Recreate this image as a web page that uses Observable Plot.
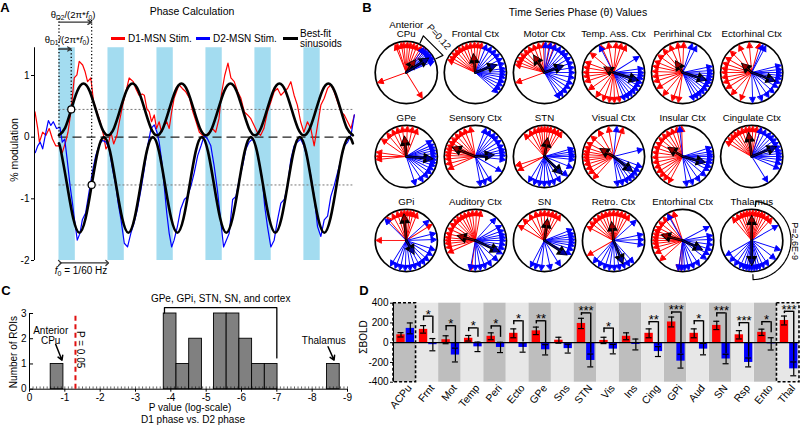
<!DOCTYPE html>
<html><head><meta charset="utf-8">
<script src="https://cdn.jsdelivr.net/npm/d3@7"></script>
<script src="https://cdn.jsdelivr.net/npm/@observablehq/plot@0.6"></script>
<style>
body{margin:0;background:#fff;}
#fig{position:relative;width:800px;height:426px;overflow:hidden;font-family:"Liberation Sans",Arial,Helvetica,sans-serif;color:#000;background:#fff;}
.abs{position:absolute;white-space:nowrap;line-height:1;}
sub{font-size:70%;vertical-align:-0.25em;line-height:0;}
</style></head><body><div id="fig"></div>
<script>
// ---------------- DATA ----------------
// Panel A
const stimOn = [0, 60, 120, 180, 240, 300];
const stimDur = 20;
const d1Level = 0.45, d2Level = -0.775;
const d1Time = [-29.4,-26,-24,-20,-16,-12,-8,-4,0,4,8,11,14.6,18.7,22,24.8,29,31.8,35,39,42.4,46.5,50.5,54.6,57.5,60,63.6,67,71,74,78,82,86,91,94,98,102,104.5,107.7,110.6,113.4,116.7,119.5,122.7,125.6,128.9,132,135,138,141,144,147,151,155,160,164,168,172,176,180,184,188,192,196,199,203,207,210.6,214.7,218.8,222.9,227,231,235,239,243,247,251,255.4,259.5,263.6,267.7,271.8,276,280,284,288,292,296,300,304.4,308.5,312.6,316.7,320.8,324.9,329,333,337,341.3,345.4,349.5,353.6,357.7,361.8];
const d1Value = [0.41,0.14,-0.08,0.08,0.03,0.14,-0.03,-0.14,-0.14,-0.25,-0.08,0.08,0.41,0.96,1.01,1.23,1.17,1.07,0.9,0.96,0.57,0.41,0.25,0.03,-0.19,-0.14,0.08,-0.11,0.03,0.25,0.52,0.74,0.96,0.9,0.79,0.68,0.7,0.68,0.46,0.41,0.25,0.36,0.14,0.25,0.08,0.19,0.25,0.14,0.41,0.63,0.74,0.85,0.79,0.74,0.63,0.41,0.25,0.08,0.03,0.03,0.08,0.14,0.08,0.3,0.7,1.0,1.2,0.96,0.9,0.74,0.63,0.41,0.36,0.3,0.19,0.08,0.03,0.14,0.41,0.57,0.74,0.79,0.68,0.74,0.79,0.9,0.68,0.52,0.25,0.08,0.25,0.14,-0.14,0.19,0.52,0.63,0.79,0.85,0.74,0.57,0.41,0.36,0.25,0.14,0.36];
const d2Time = [-29,-26,-23,-20,-16,-13,-10,-7,-3,1.2,4,7,10,13.6,16.5,19,22.4,25.7,28.6,32.6,36.7,40.8,45,49,53,57.5,61.6,65.6,69.7,72.5,76,80,84,88,92,96,100.4,104.5,108.6,112.7,116.7,120,122.7,125.6,128.9,132,135,138,141,145,149,153.5,157.6,161.7,165.8,169.9,174,178,182,186,190,194,198,201.6,205,208.5,212.7,216.8,220.9,225,229,233,237,241,245,249,252,255.4,259.5,263.6,267.7,271.8,276,280,284,288,292,296,300,304.4,308.5,312.6,316.7,320.8,324.9,329,333,337,341.3,345.4,349.5,353.6,357.7,361.8];
const d2Value = [-0.25,-0.14,-0.08,-0.19,0.08,0.27,0.19,0.25,0.14,0.16,-0.08,-0.03,-0.36,-0.79,-1.07,-1.34,-1.67,-1.56,-1.34,-1.23,-0.9,-0.57,-0.3,-0.14,-0.05,-0.08,-0.19,-0.52,-0.79,-1.07,-1.34,-1.72,-1.78,-1.56,-1.39,-1.17,-0.85,-0.52,-0.14,0.14,0.2,0.08,-0.08,-0.36,-0.79,-1.23,-1.56,-1.78,-1.67,-1.45,-1.17,-1.01,-0.96,-0.79,-0.57,-0.3,-0.14,0.03,-0.03,-0.14,-0.46,-0.85,-1.34,-1.78,-1.67,-1.56,-1.01,-0.96,-0.68,-0.46,-0.19,-0.08,-0.03,-0.14,-0.41,-0.68,-1.12,-1.45,-1.78,-1.67,-1.34,-1.07,-1.01,-0.79,-0.36,-0.14,-0.08,-0.03,-0.14,-0.36,-0.63,-0.96,-1.45,-1.61,-1.34,-1.28,-0.96,-0.79,-0.57,-0.36,-0.14,-0.08,0.03,0.36];
const fitD1Time = d3.range(0, 360.01, 7.5);
const fitD1Value = [0.03,0.15,0.45,0.75,0.87,0.75,0.45,0.15, 0.03,0.15,0.45,0.75,0.87,0.75,0.45,0.15, 0.03,0.15,0.45,0.75,0.87,0.75,0.45,0.15, 0.03,0.15,0.45,0.75,0.87,0.75,0.45,0.15, 0.03,0.15,0.45,0.75,0.87,0.75,0.45,0.15, 0.03,0.15,0.45,0.75,0.87,0.75,0.45,0.15, 0.03];
const fitD2Time = [0].concat(d3.range(2.5, 356, 7.5), [360]);
const fitD2Value = [-0.10, -0.23,-0.78,-1.32,-1.55,-1.32,-0.78,-0.23,0.00, -0.23,-0.78,-1.32,-1.55,-1.32,-0.78,-0.23,0.00, -0.23,-0.78,-1.32,-1.55,-1.32,-0.78,-0.23,0.00, -0.23,-0.78,-1.32,-1.55,-1.32,-0.78,-0.23,0.00, -0.23,-0.78,-1.32,-1.55,-1.32,-0.78,-0.23,0.00, -0.23,-0.78,-1.32,-1.55,-1.32,-0.78,-0.23,0.00, -0.10];
const yTicksA = [-2, -1, 0, 1];

// Panel B (angles in degrees, 0 = right, 90 = up)
const regionNames = ["Anterior\nCPu","Frontal Ctx","Motor Ctx","Temp. Ass. Ctx","Perirhinal Ctx","Ectorhinal Ctx","GPe","Sensory Ctx","STN","Visual Ctx","Insular Ctx","Cingulate Ctx","GPi","Auditory Ctx","SN","Retro. Ctx","Entorhinal Ctx","Thalamus"];
const redAngles = [
 [60,68,75,82,88,95,100,108,112,55,50,200,302],
 [85,92,100,108,116,124,132,140,148,155,78],
 [80,92,102,112,122,132,142,150,158,165,200,70],
 [65,75,85,100,115,140,160,170,180,188,198,215,235,250,262,272,282],
 [88,100,115,130,145,158,168,178,188,198,212,230,250,262],
 [75,95,115,135,150,162,172,180,190,200,212,228,248],
 [68,78,88,98,108,118,130,145,172,180,186],
 [100,112,122,132,142,150,158,165,172,178,185,195,205],
 [55,62,70,78,84,90,96,102,110,120,132,198,208],
 [72,100,120,138,152,162,170,176,182,188,196,205,215,228],
 [92,102,112,122,132,142,152,162,172,182,192,202,212,222,232,242],
 [72,80,88,95,102,110,118,126,134,142,150],
 [68,76,82,88,94,100,108,118,130,32,180],
 [80,88,96,104,112,120,128,136,146,156,166,174,180,186,194,204,262],
 [58,66,74,82,90,98,108,120,135,150],
 [58,66,74,82,90,98,106,114,122,132,142,152,210],
 [108,118,130,142,152,160,167,174,180,186,194,205,222,262,268],
 [48,56,64,70,76,82,88,94,100,106,112,120,130]
];
const blueAngles = [
 [22,26,30,34,38,42,46,50,55,28,36],
 [68,58,48,38,28,18,8,2,-4,-10,-18,-26,-34,-42],
 [88,78,68,58,48,40,30,20,10,0,-10,-22,-32,-42,-52,-60],
 [118,32,8,0,-6,-12,-20,-28,-36,-44,-52,-60,-68],
 [62,72,12,4,-2,-8,-14,-20,-28,-36,-44,-52,-60,-68],
 [62,68,14,6,0,-6,-12,-20,-30,-42,-55,-70,-88],
 [32,24,18,12,6,0,-6,-12,-18,-26,-34,-44,-56,-72],
 [70,60,50,42,32,22,14,8,2,-6,-30,-58,-70,-80],
 [16,10,4,0,-6,-22,-40,-58,-70,-80,-90,-100,-110,-122],
 [84,14,-20,-30,-38,-46,-54,-62,-72,-82],
 [96,18,10,4,0,-6,-12,-20,-28,-40,-55,-70,-82],
 [72,62,52,44,36,28,20,12,6,0,-6,-14,-24,-58],
 [135,42,14,2,-18,-30,-42,-52,-62,-72,-82,-92,-102,-112,-122],
 [48,30,20,12,6,0,-8,-16,-26,-42,-58,-70,-80,-90,-100],
 [22,14,8,2,-4,-10,-18,-28,-58,-78,-96,-108,-118],
 [42,12,2,-8,-48,-58,-68,-78,-88,-98,-108,-120,-132],
 [120,28,10,2,-8,-18,-28,-38,-56,-68,-78,-86,-92,-98],
 [30,-18,-38,-56,-66,-74,-80,-85,-90,-95,-100,-106,-114,-124,-136,-150]
];
const redMeanAngle = [55,96,122,150,122,138,95,158,80,150,148,98,95,165,82,96,165,90];
const redMeanLen   = [0.45,0.55,0.6,0.3,0.38,0.38,0.6,0.75,0.55,0.45,0.5,0.72,0.8,0.55,0.65,0.55,0.65,0.75];
const blueMeanAngle = [33,20,20,-18,-18,-20,-5,5,-45,-38,-15,22,-60,-25,-33,-68,-25,-90];
const blueMeanLen   = [0.8,0.68,0.6,0.78,0.75,0.75,0.8,0.55,0.75,0.72,0.7,0.8,0.45,0.8,0.8,0.75,0.65,0.75];
const arrowLen = 0.97;

// Panel C
const histBinStart = [-0.60,-3.80,-4.16,-4.52,-5.22,-5.58,-5.94,-6.30,-6.66,-8.42];
const histCount = [1,3,1,2,3,3,2,1,1,1];
const histBinWidth = 0.36;
const pThreshold = Math.log10(0.05);
const xTicksC = [0,-1,-2,-3,-4,-5,-6,-7,-8,-9];
const yTicksC = [0,1,2,3];

// Panel D
const roiCodes = ["ACPu","Frnt","Mot","Temp","Peri","Ecto","GPe","Sns","STN","Vis","Ins","Cing","GPi","Aud","SN","Rsp","Ento","Thal"];
const d1Mean = [80,135,30,45,65,95,120,25,195,23,65,95,210,95,175,80,105,225];
const d1Err  = [22,38,40,28,35,45,38,30,52,32,35,45,50,45,42,42,32,45];
const d2Mean = [145,-20,-125,-42,-48,-48,-72,-60,-180,-65,-18,-90,-187,-65,-165,-200,-12,-265];
const d2Err  = [55,62,70,48,52,48,52,45,65,48,55,50,70,58,48,45,62,70];
const sigLabel = ["","*","*","*","*","*","**","","***","*","","**","***","*","***","***","*","***"];
const sigLevel = [null,269,172,150,170,222,222,null,302,148,null,213,311,222,302,203,213,318];
const boxedRois = ["ACPu","Thal"];
const yTicksD = [-400,-200,0,200,400];

// ---------------- HELPERS ----------------
const FONT = '"Liberation Sans", Arial, Helvetica, sans-serif';
const fig = document.getElementById("fig");
const baseStyle = {fontFamily: FONT, fontSize: "10px", background: "transparent", overflow: "visible", color: "black"};
function addText(html, x, y, o = {}) {
  const el = document.createElement("div");
  el.className = "abs";
  el.innerHTML = html;
  el.style.left = x + "px"; el.style.top = y + "px";
  el.style.fontSize = (o.size || 10) + "px";
  if (o.weight) el.style.fontWeight = o.weight;
  const tx = o.anchor === "start" ? "0" : o.anchor === "end" ? "-100%" : "-50%";
  el.style.transform = `translate(${tx},-50%) rotate(${o.rotate || 0}deg)`;
  fig.appendChild(el);
  return el;
}
function addBox(x, y, w, h, color) {
  const el = document.createElement("div");
  el.className = "abs";
  Object.assign(el.style, {left: x + "px", top: y + "px", width: w + "px", height: h + "px", background: color});
  fig.appendChild(el);
}
function place(svg, left, top) {
  svg.style.position = "absolute";
  svg.style.left = left + "px";
  svg.style.top = top + "px";
  fig.appendChild(svg);
}

// ---------------- PANEL A ----------------
const d1Rows = d1Time.map((t, i) => ({t, v: d1Value[i]}));
const d2Rows = d2Time.map((t, i) => ({t, v: d2Value[i]}));
const fit1Rows = fitD1Time.map((t, i) => ({t, v: fitD1Value[i]}));
const fit2Rows = fitD2Time.map((t, i) => ({t, v: fitD2Value[i]}));
const dotted = {stroke: "black", strokeWidth: 1.3, strokeDasharray: "1.2,2.2"};
const panelA = Plot.plot({
  width: 370, height: 300,
  marginLeft: 34, marginRight: 16, marginTop: 1, marginBottom: 40,
  x: {domain: [-30, 362], axis: null},
  y: {domain: [-2, 2.2], axis: null},
  style: baseStyle,
  marks: [
    Plot.rect(stimOn, {x1: d => d, x2: d => d + stimDur, y1: -2, y2: 1.45, fill: "#a3dcf0"}),
    Plot.ruleY([d1Level, d2Level], {x1: 0, x2: 360, stroke: "#777", strokeWidth: 1, strokeDasharray: "2,2"}),
    Plot.ruleY([0], {x1: 0, x2: 360, stroke: "#222", strokeWidth: 1.3, strokeDasharray: "9,5"}),
    Plot.line(d1Rows, {x: "t", y: "v", stroke: "#ff0000", strokeWidth: 1.2}),
    Plot.line(d2Rows, {x: "t", y: "v", stroke: "#0000ff", strokeWidth: 1.2}),
    Plot.line(fit1Rows, {x: "t", y: "v", stroke: "black", strokeWidth: 2.6, curve: "natural"}),
    Plot.line(fit2Rows, {x: "t", y: "v", stroke: "black", strokeWidth: 2.6, curve: "natural"}),
    Plot.ruleX([0], {y1: 0.03, y2: 1.97, ...dotted}),
    Plot.ruleX([15], {y1: d1Level, y2: 1.43, ...dotted}),
    Plot.ruleX([40], {y1: d2Level, y2: 1.9, ...dotted}),
    Plot.arrow([0], {x1: 0, x2: 15, y1: 1.43, y2: 1.43, stroke: "#333", strokeWidth: 1.3, headLength: 5}),
    Plot.arrow([0], {x1: 0, x2: 40, y1: 1.865, y2: 1.865, stroke: "#333", strokeWidth: 1.3, headLength: 5}),
    Plot.link([0], {x1: 1, x2: 59, y1: -2.04, y2: -2.04, stroke: "#333", strokeWidth: 1.3, markerStart: "arrow", markerEnd: "arrow"}),
    Plot.dot([{t: 15, v: d1Level}, {t: 40, v: d2Level}], {x: "t", y: "v", r: 3.5, fill: "white", stroke: "black", strokeWidth: 1.2}),
    Plot.ruleX([-30], {y1: -2, y2: 1.45, stroke: "black", strokeWidth: 1}),
    Plot.axisY({ticks: yTicksA, tickFormat: d => String(d), tickSize: 3, tickPadding: 2, fontSize: 10, label: null})
  ]
});
place(panelA, 0, 0);
addText("Phase Calculation", 192, 11, {size: 10.5});
addText("% modulation", 14, 150, {size: 10.5, rotate: -90});
addText("θ<sub>D2</sub>/(2π*<i>f</i><sub>0</sub>)", 73, 15, {size: 9.5});
addText("θ<sub>D1</sub>/(2π*<i>f</i><sub>0</sub>)", 67, 40, {size: 9.5});
addText("<i>f</i><sub>0</sub> = 1/60 Hz", 81, 271, {size: 10});
addBox(111, 36.5, 14, 3.5, "#ff0000");
addText("D1-MSN Stim.", 128, 38.5, {size: 10, anchor: "start"});
addBox(196, 36.5, 14, 3.5, "#0000ff");
addText("D2-MSN Stim.", 213, 38.5, {size: 10, anchor: "start"});
addBox(283, 36.5, 15, 3.5, "#000");
addText("Best-fit<br>sinusoids", 300, 38.5, {size: 10, anchor: "start"});

// ---------------- PANEL B ----------------
const BU = 31.1; // px per unit inside each polar cell
const rad = a => a * Math.PI / 180;
const regionRows = regionNames.map((name, i) => ({name, i, col: i % 6, row: Math.floor(i / 6)}));
const redArrows = [], blueArrows = [];
regionRows.forEach(r => {
  redAngles[r.i].forEach(a => redArrows.push({col: r.col, row: r.row, a, len: arrowLen}));
  blueAngles[r.i].forEach(a => blueArrows.push({col: r.col, row: r.row, a, len: arrowLen}));
});
const redMeans = regionRows.map(r => ({col: r.col, row: r.row, a: redMeanAngle[r.i], len: redMeanLen[r.i]}));
const blueMeans = regionRows.map(r => ({col: r.col, row: r.row, a: blueMeanAngle[r.i], len: blueMeanLen[r.i]}));
// quiver-style arrow: shaft plus filled triangular head
const quiver = {
  draw(ctx, l, r) {
    const h = r * 1.9;
    ctx.moveTo(0, 0); ctx.lineTo(0, -l + h * 0.7);
    ctx.moveTo(0, -l); ctx.lineTo(-r, -l + h); ctx.lineTo(r, -l + h); ctx.closePath();
  }
};
function arrowMark(data, color, width, hr) {
  return Plot.vector(data, {fx: "col", fy: "row", x: 0, y: 0, anchor: "start",
    length: d => d.len * BU, rotate: d => 90 - d.a, shape: quiver, r: hr,
    stroke: color, fill: color, strokeWidth: width, strokeLinejoin: "miter"});
}
const cpuBracket = [65, 65, 25, 25].map((a, k) => ({col: 0, row: 0, x: (k === 0 || k === 3 ? 1.05 : 1.3) * Math.cos(rad(a)), y: (k === 0 || k === 3 ? 1.05 : 1.3) * Math.sin(rad(a))}));
const thalArcAngles = d3.range(84, -88.1, -4);
const thalArc = [{a: 84, r: 1.1}].concat(thalArcAngles.map(a => ({a, r: 1.26})), [{a: -88, r: 1.1}])
  .map(p => ({col: 5, row: 2, x: p.r * Math.cos(rad(p.a)), y: p.r * Math.sin(rad(p.a))}));
const panelB = Plot.plot({
  width: 430, height: 295,
  marginLeft: 4, marginRight: 17, marginTop: 40.25, marginBottom: 23.25,
  fx: {domain: [0, 1, 2, 3, 4, 5], paddingInner: 0.08, paddingOuter: 0, round: false, axis: null},
  fy: {domain: [0, 1, 2], paddingInner: 0.244, paddingOuter: 0, round: false, axis: null},
  x: {domain: [-1.02, 1.02], axis: null},
  y: {domain: [-1.02, 1.02], axis: null},
  length: {type: "identity"},
  style: baseStyle,
  marks: [
    Plot.dot(regionRows, {fx: "col", fy: "row", x: 0, y: 0, r: BU, fill: "none", stroke: "black", strokeWidth: 1.7}),
    arrowMark(redArrows, "#ff0000", 0.9, 2.8),
    arrowMark(blueArrows, "#0000ff", 0.9, 2.8),
    arrowMark(redMeans, "black", 2.6, 3.4),
    arrowMark(redMeans, "#a00000", 0.8, 2.2),
    arrowMark(blueMeans, "black", 2.6, 3.4),
    arrowMark(blueMeans, "#0000a0", 0.8, 2.2),
    Plot.text(regionRows, {fx: "col", fy: "row", frameAnchor: "top", text: "name", lineAnchor: "bottom", dy: -3.5, fontSize: 9.7}),
    Plot.line(cpuBracket, {fx: "col", fy: "row", x: "x", y: "y", stroke: "black", strokeWidth: 1.2}),
    Plot.text([{col: 0, row: 0}], {fx: "col", fy: "row", x: 1.05, y: 1.14, text: () => "P=0.12", rotate: 48, fontSize: 9.5}),
    Plot.line(thalArc, {fx: "col", fy: "row", x: "x", y: "y", stroke: "black", strokeWidth: 1.2}),
    Plot.text([{col: 5, row: 2}], {fx: "col", fy: "row", x: 1.38, y: -0.02, text: () => "P=2.6E-9", rotate: 90, fontSize: 9})
  ]
});
place(panelB, 370, 0);
addText("Time Series Phase (θ) Values", 578, 12, {size: 10.5});

// ---------------- PANEL C ----------------
const histRows = histBinStart.map((s, i) => ({start: s, count: histCount[i]}));
const panelC = Plot.plot({
  width: 365, height: 141,
  marginLeft: 29, marginRight: 18, marginTop: 28, marginBottom: 37.3,
  x: {domain: [0, -9], axis: null},
  y: {domain: [0, 3], axis: null},
  style: baseStyle,
  marks: [
    Plot.rect(histRows, {x1: "start", x2: d => d.start - histBinWidth, y1: 0, y2: "count", fill: "#808080", stroke: "black", strokeWidth: 0.9}),
    Plot.ruleX(d3.range(0, -9.001, -0.1), {y1: 0, y2: 0.09, stroke: "black", strokeWidth: 0.6}),
    Plot.ruleY([0], {x1: 0, x2: -9, stroke: "black", strokeWidth: 1}),
    Plot.ruleX([0], {y1: 0, y2: 3, stroke: "black", strokeWidth: 1}),
    Plot.link(yTicksC, {x1: 0, x2: -0.1, y1: d => d, y2: d => d, stroke: "black"}),
    Plot.axisX({ticks: xTicksC, tickFormat: d => String(d), tickSize: 3, tickPadding: 2, fontSize: 10, label: null}),
    Plot.axisY({ticks: yTicksC, tickFormat: d => String(d), tickSize: 0, tickPadding: 3, fontSize: 10, label: null}),
    Plot.ruleX([pThreshold], {y1: 0, y2: 3.03, stroke: "#e01010", strokeWidth: 2, strokeDasharray: "5,3.5"}),
    Plot.text(["P = 0.05"], {x: -1.44, y: 1.57, text: d => d, rotate: 90, fontSize: 10}),
    Plot.text(["Anterior\nCPu"], {x: -0.6, y: 2.1, text: d => d, fontSize: 10}),
    Plot.arrow([0], {x1: -0.74, y1: 1.78, x2: -0.92, y2: 1.15, stroke: "black", strokeWidth: 1.5, headLength: 5}),
    Plot.text(["Thalamus"], {x: -8.33, y: 1.93, text: d => d, fontSize: 10}),
    Plot.arrow([0], {x1: -8.45, y1: 1.68, x2: -8.62, y2: 1.15, stroke: "black", strokeWidth: 1.5, headLength: 5}),
    Plot.line([{x: -3.82, y: 3.02}, {x: -3.82, y: 3.23}, {x: -7.0, y: 3.23}, {x: -7.0, y: 1.24}], {x: "x", y: "y", stroke: "black", strokeWidth: 1.3}),
    Plot.text(["GPe, GPi, STN, SN, and cortex"], {x: -5.41, y: 3.6, text: d => d, fontSize: 10})
  ]
});
place(panelC, 0, 285);
addText("Number of ROIs", 14, 352, {size: 10, rotate: -90});
addText("P value (log-scale)", 190, 408, {size: 10});
addText("D1 phase vs. D2 phase", 193, 420, {size: 10});

// ---------------- PANEL D ----------------
const WD = 450, MLD = 43, MRD = 1;
const BW = (WD - MLD - MRD) / roiCodes.length;
const roiRows = roiCodes.map((code, i) => ({code, i, d1: d1Mean[i], e1: d1Err[i], d2: d2Mean[i], e2: d2Err[i], sig: sigLabel[i], lvl: sigLevel[i]}));
const sigRows = roiRows.filter(d => d.sig);
const redC = 7.5, blueC = 16.8;
const eb = {stroke: "black", strokeWidth: 1.2};
const blueTop = d => d.d2 + d.e2;
const panelD = Plot.plot({
  width: WD, height: 131,
  marginLeft: MLD, marginRight: MRD, marginTop: 7.7, marginBottom: 44.3,
  x: {domain: roiCodes, padding: 0, round: false, axis: null},
  y: {domain: [-400, 400], axis: null},
  style: baseStyle,
  marks: [
    Plot.barY(roiRows.filter(d => d.i % 2 === 0), {x: "code", y1: -400, y2: 400, fill: "#bebebe"}),
    Plot.barY(roiRows.filter(d => d.i % 2 === 1), {x: "code", y1: -400, y2: 400, fill: "#e7e7e7"}),
    Plot.barY(roiRows, {x: "code", y1: 0, y2: "d1", fill: "#ff0000", insetLeft: 3.3, insetRight: BW - 11.7}),
    Plot.barY(roiRows, {x: "code", y1: 0, y2: "d2", fill: "#0000ff", insetLeft: 12.7, insetRight: BW - 21}),
    Plot.ruleY([0], {stroke: "black", strokeWidth: 1.2}),
    Plot.ruleX(roiRows, {x: "code", y1: d => d.d1 - d.e1, y2: d => d.d1 + d.e1, dx: redC - BW / 2, ...eb}),
    Plot.tickY(roiRows, {x: "code", y: d => d.d1 + d.e1, insetLeft: redC - 3, insetRight: BW - redC - 3, ...eb}),
    Plot.tickY(roiRows, {x: "code", y: d => d.d1 - d.e1, insetLeft: redC - 3, insetRight: BW - redC - 3, ...eb}),
    Plot.ruleX(roiRows, {x: "code", y1: d => d.d2 - d.e2, y2: d => d.d2 + d.e2, dx: blueC - BW / 2, ...eb}),
    Plot.tickY(roiRows, {x: "code", y: d => d.d2 + d.e2, insetLeft: blueC - 3, insetRight: BW - blueC - 3, ...eb}),
    Plot.tickY(roiRows, {x: "code", y: d => d.d2 - d.e2, insetLeft: blueC - 3, insetRight: BW - blueC - 3, ...eb}),
    Plot.tickY(sigRows, {x: "code", y: "lvl", insetLeft: redC, insetRight: BW - blueC, stroke: "black", strokeWidth: 1.4}),
    Plot.ruleX(sigRows, {x: "code", y1: d => (d.lvl + d.d1 + d.e1) / 2, y2: "lvl", dx: redC - BW / 2, stroke: "black", strokeWidth: 1.4}),
    Plot.ruleX(sigRows, {x: "code", y1: d => blueTop(d) > 0 ? blueTop(d) + 50 : blueTop(d) + 8, y2: "lvl", dx: blueC - BW / 2, stroke: "black", strokeWidth: 1.4}),
    Plot.text(sigRows, {x: "code", y: "lvl", text: "sig", dx: (redC + blueC) / 2 - BW / 2, dy: 2.5, lineAnchor: "bottom", fontSize: 13}),
    Plot.barY(boxedRois, {x: d => d, y1: -400, y2: 400, fill: "none", stroke: "black", strokeWidth: 1.6, strokeDasharray: "3,2"}),
    Plot.ruleX([roiCodes[0]], {y1: -400, y2: 400, dx: -BW / 2, stroke: "black", strokeWidth: 1}),
    Plot.axisY({ticks: yTicksD, tickFormat: d => String(d), tickSize: 3, tickPadding: 2, fontSize: 10, label: null}),
    Plot.axisX({tickRotate: -50, tickSize: 0, tickPadding: 4, fontSize: 10.5, dx: 5, label: null})
  ]
});
place(panelD, 350, 295);
addText("ΣBOLD", 364, 337, {size: 10, rotate: -90});

// panel letters
addText("A", 5, 7, {size: 13, weight: "bold"});
addText("B", 367, 7, {size: 13, weight: "bold"});
addText("C", 6, 290, {size: 13, weight: "bold"});
addText("D", 364, 290, {size: 13, weight: "bold"});
</script></body></html>
